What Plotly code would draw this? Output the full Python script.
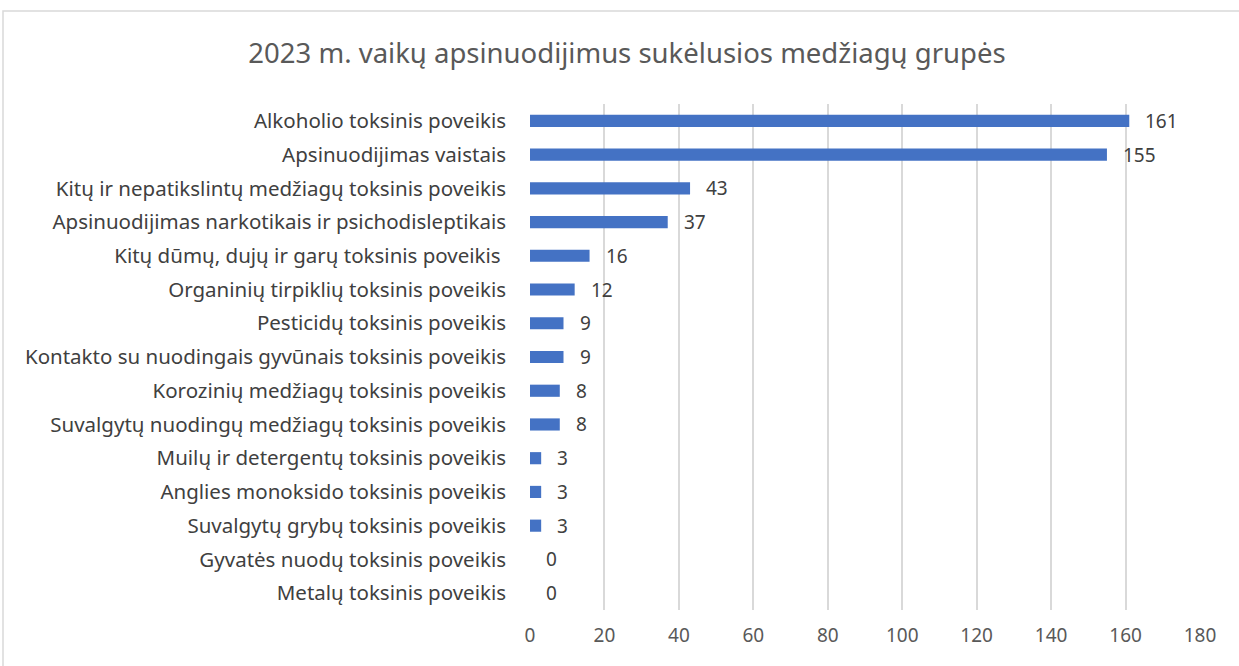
import plotly.graph_objects as go

categories = [
    "Alkoholio toksinis poveikis",
    "Apsinuodijimas vaistais",
    "Kitų ir nepatikslintų medžiagų toksinis poveikis",
    "Apsinuodijimas narkotikais ir psichodisleptikais",
    "Kitų dūmų, dujų ir garų toksinis poveikis ",
    "Organinių tirpiklių toksinis poveikis",
    "Pesticidų toksinis poveikis",
    "Kontakto su nuodingais gyvūnais toksinis poveikis",
    "Korozinių medžiagų toksinis poveikis",
    "Suvalgytų nuodingų medžiagų toksinis poveikis",
    "Muilų ir detergentų toksinis poveikis",
    "Anglies monoksido toksinis poveikis",
    "Suvalgytų grybų toksinis poveikis",
    "Gyvatės nuodų toksinis poveikis",
    "Metalų toksinis poveikis",
]
values = [161, 155, 43, 37, 16, 12, 9, 9, 8, 8, 3, 3, 3, 0, 0]
x_ticks = [0, 20, 40, 60, 80, 100, 120, 140, 160, 180]

W, H = 1239, 666
ml, mr, mt, mb = 530, 39, 104, 56
pw, ph = W - ml - mr, H - mt - mb

font = "Noto Sans"

fig = go.Figure(go.Bar(
    y=categories,
    x=values,
    orientation="h",
    marker=dict(color="#4472C4", line=dict(width=0)),
    width=0.36,
    hoverinfo="x+y",
))

annotations = [
    dict(x=v, y=c, xref="x", yref="y", text=str(v), showarrow=False,
         xanchor="left", yanchor="middle", xshift=14,
         font=dict(family=font, size=19, color="#404040"))
    for c, v in zip(categories, values)
]

fig.update_layout(
    width=W, height=H,
    margin=dict(l=ml, r=mr, t=mt, b=mb, autoexpand=False),
    paper_bgcolor="white",
    plot_bgcolor="white",
    showlegend=False,
    title=dict(
        text="2023 m. vaikų apsinuodijimus sukėlusios medžiagų grupės",
        x=627 / W, xanchor="center",
        y=1 - 53 / H, yanchor="middle",
        font=dict(family=font, size=27.5, color="#595959"),
    ),
    xaxis=dict(
        range=[0, 180],
        tickvals=x_ticks,
        showgrid=True,
        gridcolor="#D9D9D9",
        gridwidth=1.5,
        zeroline=False,
        showline=False,
        ticks="",
        tickfont=dict(family=font, size=19, color="#595959"),
        ticklabelstandoff=12,
        automargin=False,
    ),
    yaxis=dict(
        autorange="reversed",
        showgrid=False,
        zeroline=False,
        showline=False,
        ticks="",
        tickfont=dict(family=font, size=20.5, color="#404040"),
        ticklabelstandoff=23,
        automargin=False,
    ),
    annotations=annotations,
    shapes=[dict(
        type="rect", xref="paper", yref="paper",
        x0=(3 - ml) / pw, x1=(W + 10 - ml) / pw,
        y0=-(H + 10 - mt - ph) / ph, y1=(H - 11 - mb) / ph,
        line=dict(color="#D9D9D9", width=1.5),
        fillcolor="rgba(0,0,0,0)",
        layer="below",
    )],
)

fig.write_html(
    "out.html",
    config={"displayModeBar": False},
    post_script="document.body.style.margin='0';document.body.style.overflow='hidden';",
)
